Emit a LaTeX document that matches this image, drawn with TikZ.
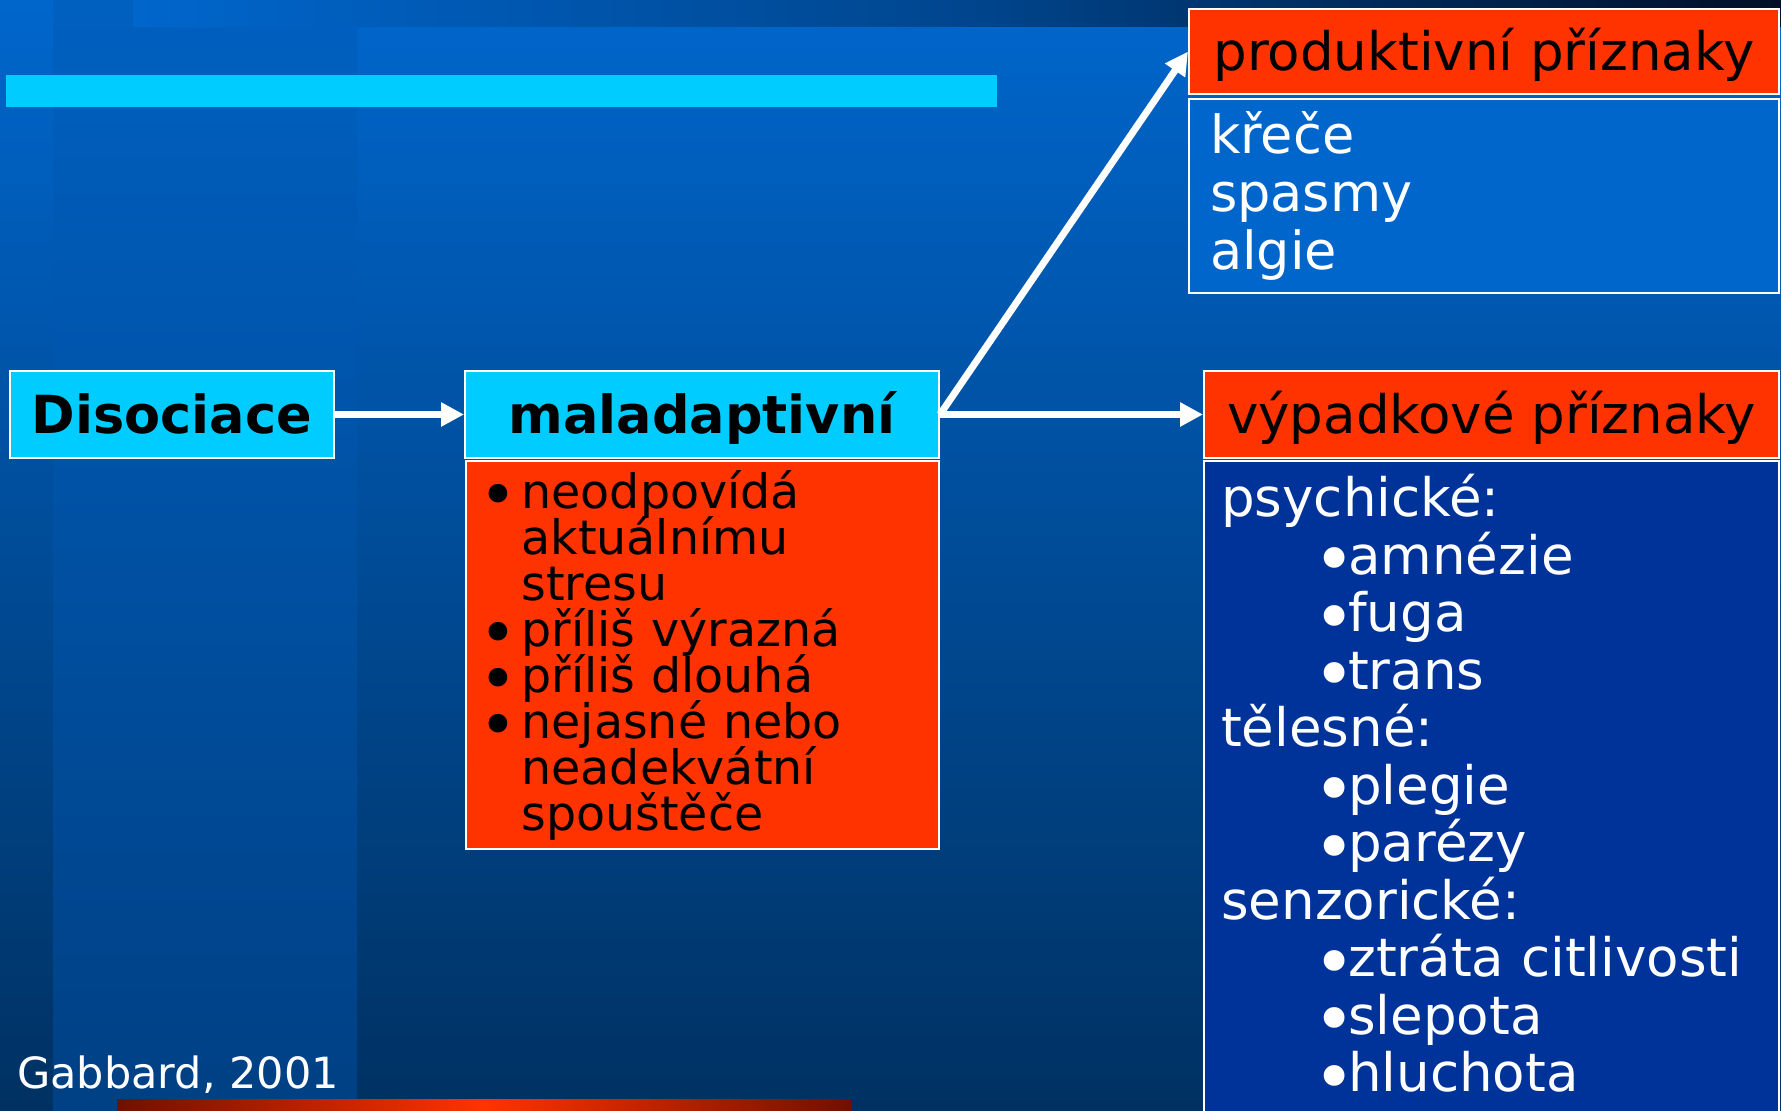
\documentclass[tikz,border=0pt]{standalone}
\usepackage{fontspec}
\setmainfont{DejaVu Sans}
\usetikzlibrary{arrows.meta,positioning}

\definecolor{slideblue}{HTML}{0066CC}
\definecolor{slidenavy}{HTML}{003162}
\definecolor{bandtop}{HTML}{0060C0}
\definecolor{bandbot}{HTML}{004084}
\definecolor{stripmid}{HTML}{00468F}
\definecolor{stripend}{HTML}{000F26}
\definecolor{boxcyan}{HTML}{00CCFF}
\definecolor{boxred}{HTML}{FF3300}
\definecolor{boxdeep}{HTML}{003399}
\definecolor{bardark}{HTML}{701000}

% bullets for the two lists
\newcommand{\bigdot}{\raisebox{-0.2em}{\scalebox{1.35}{\textbullet}}}
\newcommand{\blt}{\makebox[42pt][l]{\bigdot}}
\newcommand{\sblt}{\hspace*{92pt}\makebox[35pt][l]{\bigdot}}

\begin{document}
\setlength{\lineskiplimit}{-100pt}
\setlength{\normallineskiplimit}{-100pt}
\begin{tikzpicture}[
  x=1pt, y=-1pt,
  >={Triangle[length=23pt,width=23pt]},
  headbox/.style={draw=white, line width=2pt, inner sep=0pt,
                  text height=38pt, text depth=0pt,
                  font=\fontsize{53}{58}\selectfont},
  boldhead/.style={headbox, font=\fontsize{52.5}{58}\selectfont\bfseries},
  bodybox/.style={draw=white, line width=2pt, align=left, inner ysep=0pt},
  flow/.style={->, white, line width=7pt},
]
\useasboundingbox (0,0) rectangle (1781,1111);

% slide background
\fill[top color=slideblue, bottom color=slidenavy] (0,0) rectangle (1781,1111);
\fill[top color=bandtop, bottom color=bandbot] (53,0) rectangle (357,1111);
\fill[left color=slideblue, right color=stripend, middle color=stripmid] (133,0) rectangle (1781,26);
\fill[boxcyan] (6,75) rectangle (997,107);
\fill[left color=bardark, right color=bardark, middle color=boxred] (117,1099) rectangle (852,1111);

% left part
\node[boldhead, fill=boxcyan, minimum width=324pt, minimum height=87pt] (dis) at (172,414.5) {Disociace};
\node[boldhead, fill=boxcyan, minimum width=474pt, minimum height=87pt] (mal) at (702,414.5) {maladaptivní};
\node[bodybox, fill=boxred, below=1pt of mal, minimum width=473pt, minimum height=388pt,
      inner xsep=14pt, text width=445pt, font=\fontsize{47.5}{46}\selectfont] (malbody)
  {\blt neodpovídá\\
   \hspace*{42pt}aktuálnímu\\
   \hspace*{42pt}stresu\\
   \blt příliš výrazná\\
   \blt příliš dlouhá\\
   \blt nejasné nebo\\
   \hspace*{42pt}neadekvátní\\
   \hspace*{42pt}spouštěče};

% right part
\node[headbox, fill=boxred, minimum width=590pt, minimum height=85pt] (prod) at (1484,51.5) {produktivní příznaky};
\node[bodybox, fill=slideblue, below=3pt of prod, minimum width=590pt, minimum height=194pt,
      inner xsep=21pt, text width=548pt, text=white, font=\fontsize{52.5}{58}\selectfont] (prodbody)
  {křeče\\ spasmy\\ algie};

\node[headbox, fill=boxred, minimum width=575pt, minimum height=87pt] (vyp) at (1491.5,414.5) {výpadkové příznaky};
\node[bodybox, fill=boxdeep, below=1pt of vyp, minimum width=575pt, minimum height=680pt] (vypbody) {};
\node[anchor=north west, align=left, inner sep=0pt, text=white, font=\fontsize{53}{57.5}\selectfont] (vyplist)
  at ([xshift=18pt, yshift=-14pt]vypbody.north west)
  {psychické:\\
   \sblt amnézie\\
   \sblt fuga\\
   \sblt trans\\
   tělesné:\\
   \sblt plegie\\
   \sblt parézy\\
   senzorické:\\
   \sblt ztráta citlivosti\\
   \sblt slepota\\
   \sblt hluchota};

\node[anchor=base west, inner sep=0pt, text=white, font=\fontsize{43}{50}\selectfont] (src) at (17,1088) {Gabbard, 2001};

% arrows
\draw[flow] (dis) -- (mal);
\draw[flow] (mal.east) -- (prod.west);
\draw[flow] (mal) -- (vyp);
\end{tikzpicture}
\end{document}
